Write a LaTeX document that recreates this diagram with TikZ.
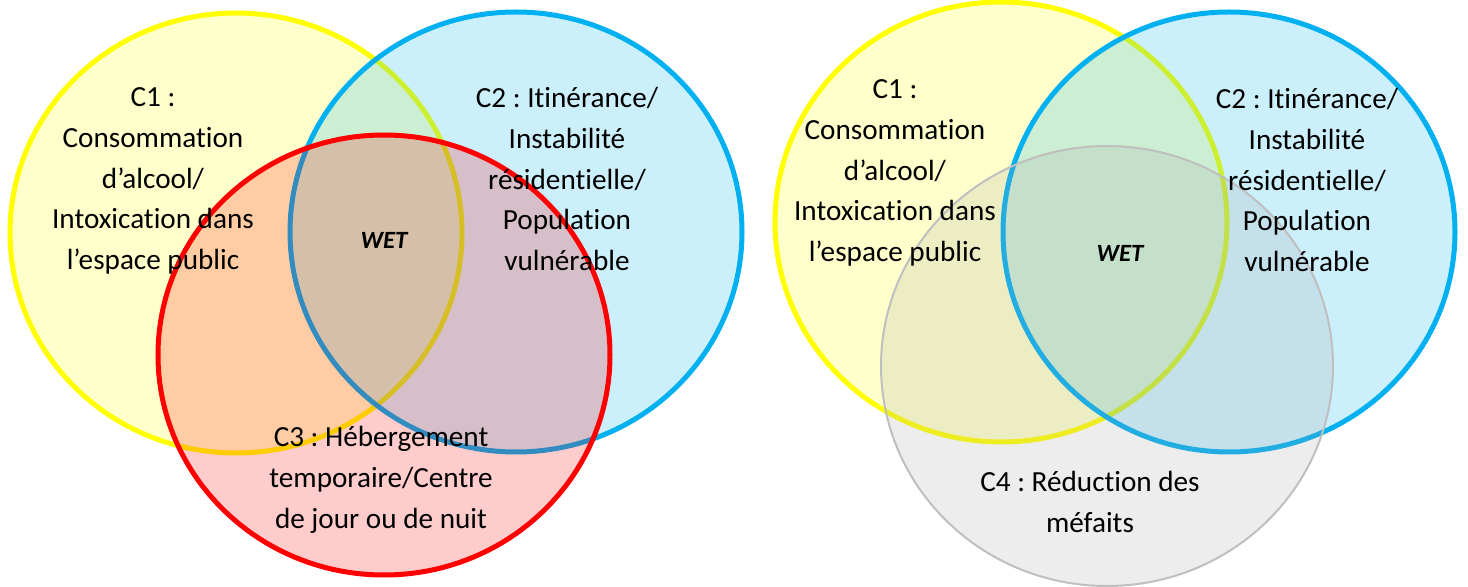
\documentclass[tikz,border=0pt]{standalone}
\usepackage{fontspec}
\setmainfont{Carlito}[Ligatures={NoCommon,NoContextual},Contextuals=NoAlternate]
\definecolor{jaune}{HTML}{FFFF00}
\definecolor{bleu}{HTML}{00B0F0}
\definecolor{rouge}{HTML}{FF0000}
\definecolor{gris}{HTML}{A5A5A5}
\definecolor{grisbord}{HTML}{BFBFBF}
\begin{document}
\frenchspacing
\begin{tikzpicture}[x=0.5pt,y=-0.5pt,
    cercle/.style={line width=2.5pt, fill opacity=0.2},
    etiquette/.style={align=center, font=\fontsize{14.6}{20.4}\selectfont},
    centre/.style={font=\fontsize{12.4}{14}\selectfont\bfseries\itshape}]
\useasboundingbox (0,0) rectangle (1468,587);

        % Diagramme de gauche : C1, C2, C3
        \filldraw[cercle, draw=jaune, fill=jaune] (236,233) ellipse [x radius=113pt, y radius=110pt];
        \filldraw[cercle, draw=bleu, fill=bleu] (516,232) ellipse [x radius=113pt, y radius=110pt];
        \filldraw[cercle, draw=rouge, fill=rouge] (384,355) ellipse [x radius=113pt, y radius=110pt];

        \node[etiquette] (c1g) at (153,181) {C1 :\\Consommation\\d’alcool/\\Intoxication dans\\l’espace public};
        \node[etiquette] (c2g) at (567,179) {C2 : Itinérance/\\Instabilité\\résidentielle/\\Population\\vulnérable};
        \node[etiquette] (c3g) at (381,480) {C3 : Hébergement\\temporaire/Centre\\de jour ou de nuit};
        \node[centre] (wetg) at (384,240) {WET};

        % Diagramme de droite : C1, C2, C4
        \filldraw[cercle, draw=jaune, fill=jaune] (1001,222) ellipse [x radius=113pt, y radius=110pt];
        \filldraw[cercle, draw=bleu, fill=bleu] (1229,232) ellipse [x radius=113pt, y radius=110pt];
        \filldraw[cercle, line width=1pt, draw=grisbord, fill=gris] (1107,366) ellipse [x radius=113pt, y radius=110pt];

        \node[etiquette] (c1d) at (895,173) {C1 :\\Consommation\\d’alcool/\\Intoxication dans\\l’espace public};
        \node[etiquette] (c2d) at (1307,180) {C2 : Itinérance/\\Instabilité\\résidentielle/\\Population\\vulnérable};
        \node[etiquette] (c4d) at (1090,502) {C4 : Réduction des\\méfaits};
        \node[centre] (wetd) at (1120,253) {WET};

\end{tikzpicture}
\end{document}
